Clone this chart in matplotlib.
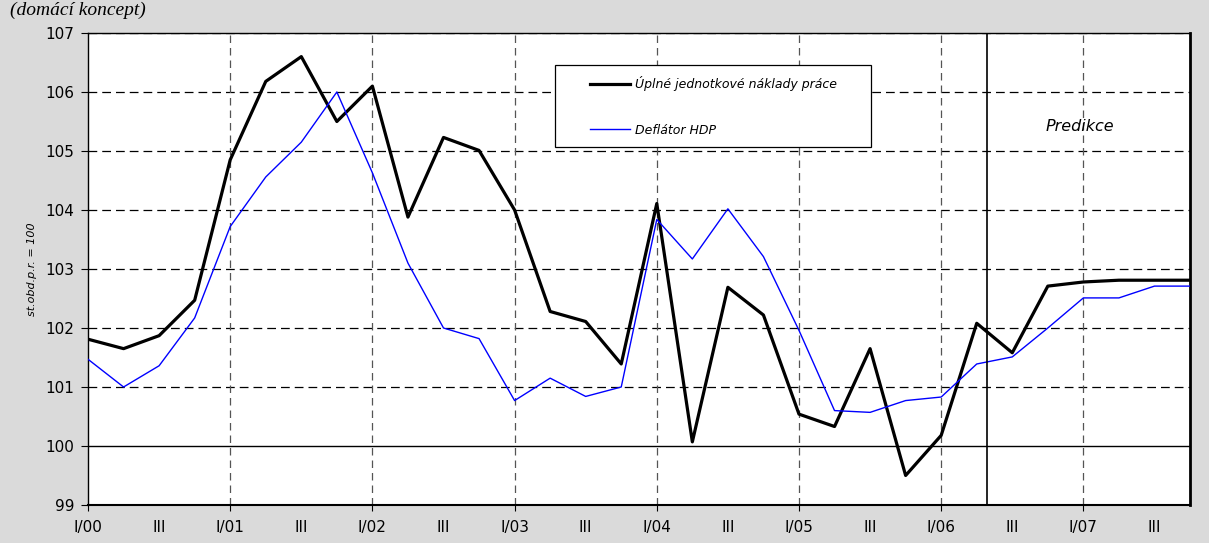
import matplotlib
matplotlib.use('Agg')
import matplotlib.pyplot as plt
from matplotlib.patches import Rectangle
import numpy as np

# ctvrtleti I/00 .. IV/07
kvartaly = np.arange(32)

naklady_prace = [101.81, 101.65, 101.87, 102.47, 104.85, 106.18, 106.60, 105.50,
                 106.10, 103.88, 105.23, 105.01, 104.00, 102.28, 102.11, 101.39,
                 104.11, 100.07, 102.69, 102.22, 100.54, 100.33, 101.65, 99.50,
                 100.18, 102.08, 101.58, 102.71, 102.78, 102.81, 102.81, 102.81]

deflator_hdp = [101.47, 101.00, 101.36, 102.17, 103.72, 104.56, 105.15, 106.00,
                104.63, 103.10, 102.00, 101.82, 100.77, 101.15, 100.84, 101.00,
                103.84, 103.17, 104.02, 103.21, 101.96, 100.60, 100.57, 100.77,
                100.83, 101.39, 101.51, 102.00, 102.51, 102.51, 102.71, 102.71]

roky = ['00', '01', '02', '03', '04', '05', '06', '07']
zacatek_predikce = 25.3

fig = plt.figure(figsize=(12.09, 5.43), dpi=100, facecolor='#dadada')
ax = fig.add_axes([0.0728, 0.070, 0.9115, 0.8692])
ax.set_facecolor('white')

ax.plot(kvartaly, naklady_prace, color='black', lw=2.3, label='Úplné jednotkové náklady práce', zorder=4)
ax.plot(kvartaly, deflator_hdp, color='#0000ff', lw=1.0, label='Deflátor HDP', zorder=5)

ax.set_xlim(0, 31)
ax.set_ylim(99, 107)

# osa y
ax.set_yticks(np.arange(99, 108))
ax.tick_params(axis='y', direction='out', length=5, width=0.8, pad=5, labelsize=11)
for yy in range(101, 108):
    ax.axhline(yy, color='black', lw=0.9, ls=(0, (7, 4)), zorder=2)
ax.axhline(100, color='black', lw=1.0, zorder=3)

# osa x
major_pos = kvartaly[::4]
minor_pos = kvartaly[2::4]
ax.set_xticks(major_pos)
ax.set_xticklabels(['I/' + r for r in roky])
ax.set_xticks(minor_pos, minor=True)
ax.set_xticklabels(['III'] * len(minor_pos), minor=True)
ax.tick_params(axis='x', which='major', direction='out', length=4, width=0.8, pad=7, labelsize=11)
ax.tick_params(axis='x', which='minor', length=0, pad=11, labelsize=11)
for xx in major_pos[1:]:
    ax.axvline(xx, color='#555555', lw=0.9, ls=(0, (6, 4)), zorder=2)

ax.set_ylabel('st.obd.p.r. = 100', fontsize=8, style='italic', labelpad=6)

for s in ax.spines.values():
    s.set_color('black')
    s.set_linewidth(1.0)
ax.spines['bottom'].set_linewidth(1.5)
ax.spines['right'].set_linewidth(2.0)

# predikce
ax.axvline(zacatek_predikce, color='black', lw=1.2, zorder=6)
ax.text(27.9, 105.41, 'Predikce', fontsize=11.5, style='italic', ha='center', va='center')

# legenda
ax.add_patch(Rectangle((0.4238, 0.7585), 0.2868, 0.1737, transform=ax.transAxes,
                       facecolor='white', edgecolor='black', lw=0.9, zorder=7))
leg = ax.legend(loc='upper left', bbox_to_anchor=(0.4555, 0.9085), frameon=False,
                borderpad=0, borderaxespad=0, handlelength=3.2, handletextpad=0.4,
                labelspacing=2.6, prop={'size': 9, 'style': 'italic'})
leg.set_zorder(8)

fig.text(0.008, 0.972, '(domácí koncept)', fontsize=14, style='italic',
         family='Liberation Serif', va='baseline', ha='left')

fig.savefig('out.png', dpi=100, facecolor=fig.get_facecolor())
